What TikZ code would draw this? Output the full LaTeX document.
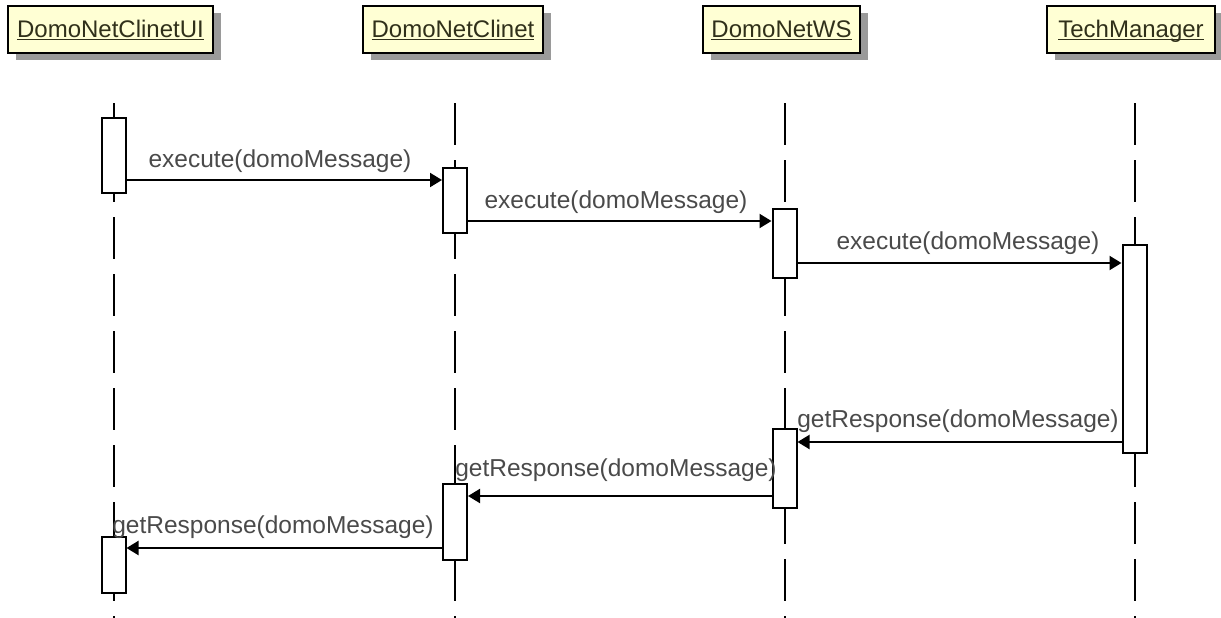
\documentclass[tikz,border=0pt]{standalone}
\usepackage{fontspec}
\setmainfont{Liberation Sans}
\usetikzlibrary{arrows.meta,shadows}
\definecolor{hdrfill}{HTML}{FFFFD4}
\definecolor{hdrtext}{HTML}{30301A}
\definecolor{lbl}{HTML}{4A4A4A}
\definecolor{shadowc}{HTML}{9A9A9A}
\newcommand{\hdrul}[1]{\underline{\smash{#1}}}
\begin{document}
\begin{tikzpicture}[x=1pt,y=-1pt,
  hdr/.style={draw=black, line width=2pt, fill=hdrfill, text=hdrtext, inner sep=0pt,
    minimum height=47pt, text height=17pt, text depth=0pt, font=\fontsize{24}{28}\selectfont,
    drop shadow={shadow xshift=8pt, shadow yshift=-7pt, fill=shadowc, opacity=1}},
  lifeline/.style={line width=2pt, dash pattern=on 42pt off 15pt},
  act/.style={draw=black, line width=2pt, fill=white, inner sep=0pt, minimum width=24pt},
  msg/.style={line width=2pt, -{Triangle[length=12pt,width=14pt]}},
  lab/.style={text=lbl, inner sep=0pt, font=\fontsize{24.5}{28}\selectfont}
]
\useasboundingbox (0,0) rectangle (1221,618);

% headers
\node[hdr, minimum width=205pt] (h1) at (110.5,29.5) {\hdrul{DomoNetClinetUI}};
\node[hdr, minimum width=180pt] (h2) at (453,29.5) {\hdrul{DomoNetClinet}};
\node[hdr, minimum width=157pt] (h3) at (781.5,29.5) {\hdrul{DomoNetWS}};
\node[hdr, minimum width=168pt] (h4) at (1131,29.5) {\hdrul{TechManager}};

% lifelines
\coordinate (l1t) at (113.5,103); \coordinate (l1b) at (113.5,618);
\coordinate (l2t) at (455,103);   \coordinate (l2b) at (455,618);
\coordinate (l3t) at (784.5,103); \coordinate (l3b) at (784.5,618);
\coordinate (l4t) at (1134.5,103);\coordinate (l4b) at (1134.5,618);
\draw[lifeline] (l1t) -- (l1b);
\draw[lifeline] (l2t) -- (l2b);
\draw[lifeline] (l3t) -- (l3b);
\draw[lifeline] (l4t) -- (l4b);

% activations
\node[act, minimum height=75pt]  (a1) at (113.5,155.5) {};
\node[act, minimum height=65pt]  (a2) at (455,200.5) {};
\node[act, minimum height=69pt]  (a3) at (784.5,243.5) {};
\node[act, minimum height=208pt] (a4) at (1134.5,349) {};
\node[act, minimum height=79pt]  (a5) at (784.5,468.5) {};
\node[act, minimum height=76pt]  (a6) at (455,522) {};
\node[act, minimum height=56pt]  (a7) at (113.5,565) {};

% message levels
\coordinate (m1) at (0,180);
\coordinate (m2) at (0,221);
\coordinate (m3) at (0,263);
\coordinate (m4) at (0,442);
\coordinate (m5) at (0,496);
\coordinate (m6) at (0,548);

\draw[msg] (a1.east |- m1) -- (a2.west |- m1);
\draw[msg] (a2.east |- m2) -- (a3.west |- m2);
\draw[msg] (a3.east |- m3) -- (a4.west |- m3);
\draw[msg] (a4.west |- m4) -- (a5.east |- m4);
\draw[msg] (a5.west |- m5) -- (a6.east |- m5);
\draw[msg] (a6.west |- m6) -- (a7.east |- m6);

% labels
\node[lab] (t1) at (280,161) {execute(domoMessage)};
\node[lab] (t2) at (616,202) {execute(domoMessage)};
\node[lab] (t3) at (968,243) {execute(domoMessage)};
\node[lab] (t4) at (958,421) {getResponse(domoMessage)};
\node[lab] (t5) at (616,470) {getResponse(domoMessage)};
\node[lab] (t6) at (273,527) {getResponse(domoMessage)};
\end{tikzpicture}
\end{document}
